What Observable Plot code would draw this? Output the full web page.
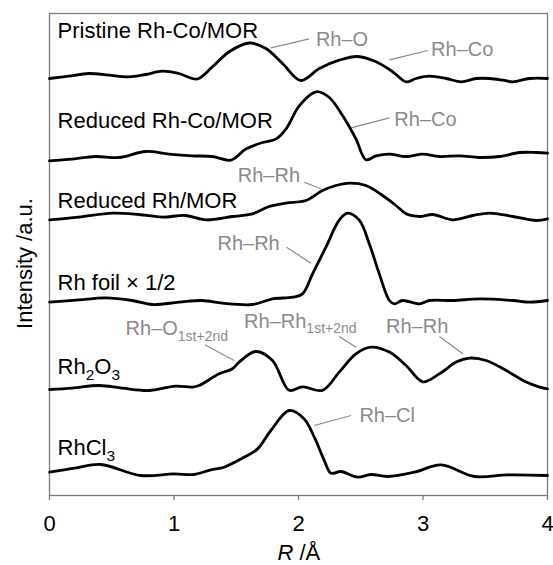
<!DOCTYPE html>
<html><head><meta charset="utf-8">
<script src="https://cdn.jsdelivr.net/npm/d3@7"></script>
<script src="https://cdn.jsdelivr.net/npm/@observablehq/plot@0.6"></script>
<style>body{margin:0;background:#fff;}</style>
</head><body><div id="chart"></div>
<script>
// ---- data (R in Å, intensity in a.u.; each curve stacked on its own offset) ----
const sampleNames = ["Pristine Rh-Co/MOR", "Reduced Rh-Co/MOR", "Reduced Rh/MOR", "Rh foil × 1/2", "Rh_{2}O_{3}", "RhCl_{3}"];
const offsets = [417, 335.7, 275.7, 193.3, 106.7, 23.3];
const labelY = [465, 374.2, 295, 212.5, 128.8, 47.8];
const labelX = 0.065;

const rPristine = [0, 0.155, 0.316, 0.477, 0.638, 0.772, 0.906, 1.04, 1.188, 1.309, 1.443, 1.604, 1.738, 1.872, 2.019, 2.167, 2.327, 2.475, 2.623, 2.757, 2.864, 2.944, 3.052, 3.186, 3.307, 3.427, 3.534, 3.642, 3.722, 3.856, 4.0];
const iPristine = [0, 2.3, 5, 3.3, 1.7, 4, 7.3, 5, -0.5, 11.7, 26.7, 35.5, 30, 15, -2, 10, 18.3, 22, 16.7, 6.7, -3.3, 0, 2.3, 0, -3.3, 0, 0, -1.7, -3.3, 0, 0];

const rRhCo = [0, 0.182, 0.37, 0.558, 0.772, 0.96, 1.148, 1.309, 1.456, 1.577, 1.711, 1.818, 1.899, 2.006, 2.14, 2.247, 2.355, 2.462, 2.542, 2.623, 2.73, 2.864, 2.998, 3.132, 3.293, 3.454, 3.615, 3.776, 3.91, 4.0];
const iRhCo = [-1, 0.7, 3.3, 2.3, 8.3, 5.7, 4, 3.3, -0.3, 10.7, 17.3, 20.7, 30.7, 54, 68, 62.3, 44, 20.7, 0, 4, 5.7, 3.3, 5.7, 3.3, 4, 2.3, 3.3, 7.3, 7.3, 6.7];

const rRhMOR = [0, 0.236, 0.504, 0.718, 0.906, 1.094, 1.255, 1.469, 1.63, 1.764, 1.898, 2.059, 2.193, 2.3, 2.408, 2.542, 2.676, 2.783, 2.864, 2.971, 3.078, 3.239, 3.4, 3.534, 3.722, 3.91, 4.0];
const iRhMOR = [0, 2.7, 6.7, 5.3, 2.7, 4.3, 0, 3.3, 6, 13.3, 16.7, 19.3, 29.3, 34.3, 36.7, 34.3, 24.3, 14.3, 6, 3.3, 5.3, 0, 4.3, 6.7, 3.3, -0.7, 1];

const rFoil = [0, 0.236, 0.45, 0.665, 0.826, 1.04, 1.228, 1.389, 1.63, 1.791, 1.952, 2.032, 2.113, 2.22, 2.327, 2.394, 2.488, 2.569, 2.649, 2.73, 2.77, 2.837, 2.971, 3.052, 3.239, 3.454, 3.722, 3.856, 4.0];
const iFoil = [0, 2.3, 4.3, 1.7, -2.3, 0, 1.7, -1, -2.3, 3.3, 5, 8.3, 28.3, 55, 82, 89, 82, 58.3, 28.3, 1.7, -1.7, 1.7, -1.7, 1.7, 1.7, 3.3, 1.7, 0, 1.7];

const rRh2O3 = [0, 0.182, 0.397, 0.584, 0.799, 1.013, 1.148, 1.201, 1.362, 1.469, 1.523, 1.657, 1.791, 1.925, 2.032, 2.193, 2.327, 2.461, 2.582, 2.73, 2.864, 2.998, 3.132, 3.266, 3.373, 3.507, 3.668, 3.829, 3.937, 4.0];
const iRh2O3 = [-0.7, 0.7, 3.3, 0.7, -1.7, 2.7, 1.7, 3.3, 15, 20, 26.7, 37.3, 28.3, -1.5, 2, -1.5, 16.7, 35, 41.7, 36.7, 23.3, 7, 15, 26.7, 30.7, 28.3, 18.3, 6.7, 1.7, 0];

const rRhCl3 = [0, 0.2, 0.41, 0.732, 1.0, 1.16, 1.295, 1.402, 1.537, 1.671, 1.778, 1.925, 2.046, 2.127, 2.207, 2.261, 2.341, 2.475, 2.582, 2.717, 2.931, 3.146, 3.414, 3.682, 4.0];
const iRhCl3 = [0, 4, 7.7, -3.3, -1.7, -2.3, 2.3, 5, 13.3, 23.3, 41.7, 61.7, 53.3, 35, 11.7, -1, 0.7, -5, -2.3, -4.3, 0, 7.3, -4.3, -2.7, -3.3];

// annotations (gray labels with leader lines)
const annText = ["Rh–O", "Rh–Co", "Rh–Co", "Rh–Rh", "Rh–Rh", "Rh–O_{1st+2nd}", "Rh–Rh_{1st+2nd}", "Rh–Rh", "Rh–Cl"];
const annX = [2.140, 3.065, 2.770, 1.512, 1.349, 0.611, 1.563, 2.703, 2.489];
const annY = [455.7, 446.2, 375.7, 320, 252.3, 166.7, 174.2, 168.7, 79.5];
const leadX1 = [1.778, 2.730, 2.422, 2.046, 1.904, 1.247, 2.327, 3.132, 2.127];
const leadY1 = [447.7, 435.7, 367.7, 313.3, 248.3, 150.7, 159, 159, 70];
const leadX2 = [2.086, 3.039, 2.730, 2.180, 2.100, 1.483, 2.462, 3.320, 2.422];
const leadY2 = [456.7, 445, 377.7, 306.7, 232.3, 135, 148.3, 141.7, 80];

const xTicks = [0, 1, 2, 3, 4];
const xTickLabels = ["0", "1", "2", "3", "4"];
const xLabelVar = "R";      // italic symbol
const xLabelUnit = "/Å";
const yLabel = "Intensity /a.u.";

// ---- build tables ----
const curves = [[rPristine, iPristine], [rRhCo, iRhCo], [rRhMOR, iRhMOR], [rFoil, iFoil], [rRh2O3, iRh2O3], [rRhCl3, iRhCl3]];
const rows = [];
curves.forEach(([rs, is], k) => rs.forEach((r, j) => rows.push({sample: k, r, v: offsets[k] + is[j]})));
const labels = sampleNames.map((t, k) => ({t, x: labelX, y: labelY[k]}));
const anns = annText.map((t, k) => ({t, x: annX[k], y: annY[k], x1: leadX1[k], y1: leadY1[k], x2: leadX2[k], y2: leadY2[k]}));

const gray = "#8a8a8a";
const frameGray = "#7a7a7a";

const chart = Plot.plot({
  width: 553, height: 565,
  marginTop: 13, marginBottom: 70, marginLeft: 49, marginRight: 6,
  style: {fontFamily: "'Liberation Sans', Arial, sans-serif", background: "white", color: "black", overflow: "visible"},
  x: {domain: [0, 4]},
  y: {domain: [0, 482], axis: null},
  marks: [
    Plot.frame({stroke: frameGray, strokeWidth: 1.3}),
    Plot.axisX({ticks: xTicks, tickFormat: (d, i) => xTickLabels[i], tickSize: 5, tickPadding: 15, fontSize: 22, label: null, stroke: frameGray, strokeWidth: 1.3, fill: "black"}),
    Plot.link(anns, {x1: "x1", y1: "y1", x2: "x2", y2: "y2", stroke: gray, strokeWidth: 1.2}),
    Plot.line(rows, {x: "r", y: "v", z: "sample", stroke: "black", strokeWidth: 2.8, curve: "catmull-rom"}),
    Plot.text(labels, {x: "x", y: "y", text: "t", textAnchor: "start", lineAnchor: "middle", fontSize: 22, fill: "black"}),
    Plot.text(anns, {x: "x", y: "y", text: "t", textAnchor: "start", lineAnchor: "middle", fontSize: 20, fill: gray}),
    Plot.text([xLabelVar], {frameAnchor: "bottom", dx: -21, dy: 57, textAnchor: "start", lineAnchor: "middle", fontSize: 22, fontStyle: "italic", fill: "black"}),
    Plot.text([xLabelUnit], {frameAnchor: "bottom", dx: 1, dy: 57, textAnchor: "start", lineAnchor: "middle", fontSize: 22, fill: "black"}),
    Plot.text([yLabel], {frameAnchor: "left", dx: -25, dy: 9, rotate: -90, lineAnchor: "middle", textAnchor: "middle", fontSize: 22, fill: "black"})
  ]
});
document.getElementById("chart").append(chart);

// rich text: _{...} -> subscript
d3.select(chart).selectAll("text").each(function () {
  const s = this.textContent;
  if (!/_\{/.test(s)) return;
  const fs = parseFloat(getComputedStyle(this).fontSize) || 20;
  const parts = s.split(/(_\{[^}]*\})/).filter(p => p);
  this.textContent = "";
  let shifted = 0;
  for (const p of parts) {
    const t = d3.select(this).append("tspan");
    if (p.startsWith("_{")) {
      const sh = fs * 0.27;
      t.text(p.slice(2, -1)).attr("font-size", fs * 0.7).attr("dy", sh - shifted);
      shifted = sh;
    } else {
      t.text(p);
      if (shifted) { t.attr("dy", -shifted); shifted = 0; }
    }
  }
});
</script>
</body></html>
